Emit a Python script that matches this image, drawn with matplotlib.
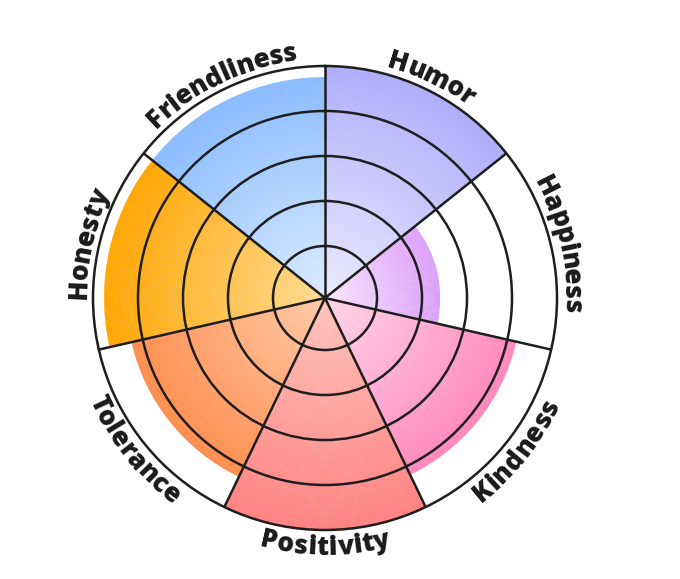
import matplotlib.pyplot as plt
import numpy as np
from matplotlib.colors import to_rgb
from matplotlib.font_manager import FontProperties

categories = ["Humor", "Happiness", "Kindness", "Positivity",
              "Tolerance", "Honesty", "Friendliness"]
values = [5.0, 2.4, 4.2, 5.0, 4.25, 4.75, 4.75]
outer_colors = ["#aeacfa", "#dc9ef8", "#ff86ba", "#ff8080",
                "#ff8c4c", "#ffa500", "#88bbff"]
inner_colors = ["#ecebff", "#fbe6ff", "#ffd6ea", "#ffc4bc",
                "#ffcaa8", "#ffdc94", "#dcecff"]

r0 = -0.156          # small offset so ring 1 sits where it does in the picture
rmax = 5
R_PX = 232           # outer radius in pixels

fig = plt.figure(figsize=(6.8, 5.79), dpi=100)
ax = fig.add_axes([(325 - R_PX) / 680, (579 - 298 - R_PX) / 579,
                   2 * R_PX / 680, 2 * R_PX / 579], projection="polar")
ax.set_theta_zero_location("N")
ax.set_theta_direction(-1)
ax.set_ylim(r0, rmax)

n = len(categories)
width = 2 * np.pi / n
starts = np.arange(n) * width

# radial gradient: stack thin bars from the centre outwards
steps = 120
for i in range(n):
    c_in = np.array(to_rgb(inner_colors[i]))
    c_out = np.array(to_rgb(outer_colors[i]))
    edges = np.linspace(r0, values[i], steps + 1)
    for k in range(steps):
        f = (k + 0.5) / steps
        col = c_in + (c_out - c_in) * f
        ax.bar(starts[i], edges[k + 1] - edges[k], width=width, bottom=edges[k],
               align="edge", color=col, edgecolor=col, linewidth=0.3, zorder=1)

ax.set_axisbelow(False)
ax.set_rgrids([1, 2, 3, 4], labels=[])
ax.set_thetagrids(np.degrees(starts), labels=[])
ax.grid(True, color="#1e1e1e", linewidth=1.8)
ax.spines["polar"].set_color("#1e1e1e")
ax.spines["polar"].set_linewidth(1.8)
ax.tick_params(length=0)


def px_to_r(p):
    return r0 + p / R_PX * (rmax - r0)


# curved labels, one character at a time
prop = FontProperties(family=["Open Sans", "DejaVu Sans"], weight=800, size=19)
renderer = fig.canvas.get_renderer()
for i, label in enumerate(categories):
    theta_c = np.degrees(starts[i] + width / 2)
    flipped = 100 < theta_c < 260
    cum = [0.0]
    for j in range(1, len(label) + 1):
        w, _, _ = renderer.get_text_width_height_descent(label[:j], prop, ismath=False)
        cum.append(w)
    total = cum[-1]
    r_arc = 248
    r_base = 257 if flipped else 239
    for j, ch in enumerate(label):
        s = (cum[j] + cum[j + 1]) / 2 - total / 2
        dtheta = np.degrees(s / r_arc)
        if flipped:
            th = theta_c - dtheta
            rot = 180 - th
        else:
            th = theta_c + dtheta
            rot = -th
        ax.text(np.radians(th), px_to_r(r_base), ch, fontproperties=prop,
                color="#1a1a1a", rotation=rot, rotation_mode="anchor",
                ha="center", va="baseline", clip_on=False)

fig.savefig("out.png", dpi=100)
plt.close(fig)
